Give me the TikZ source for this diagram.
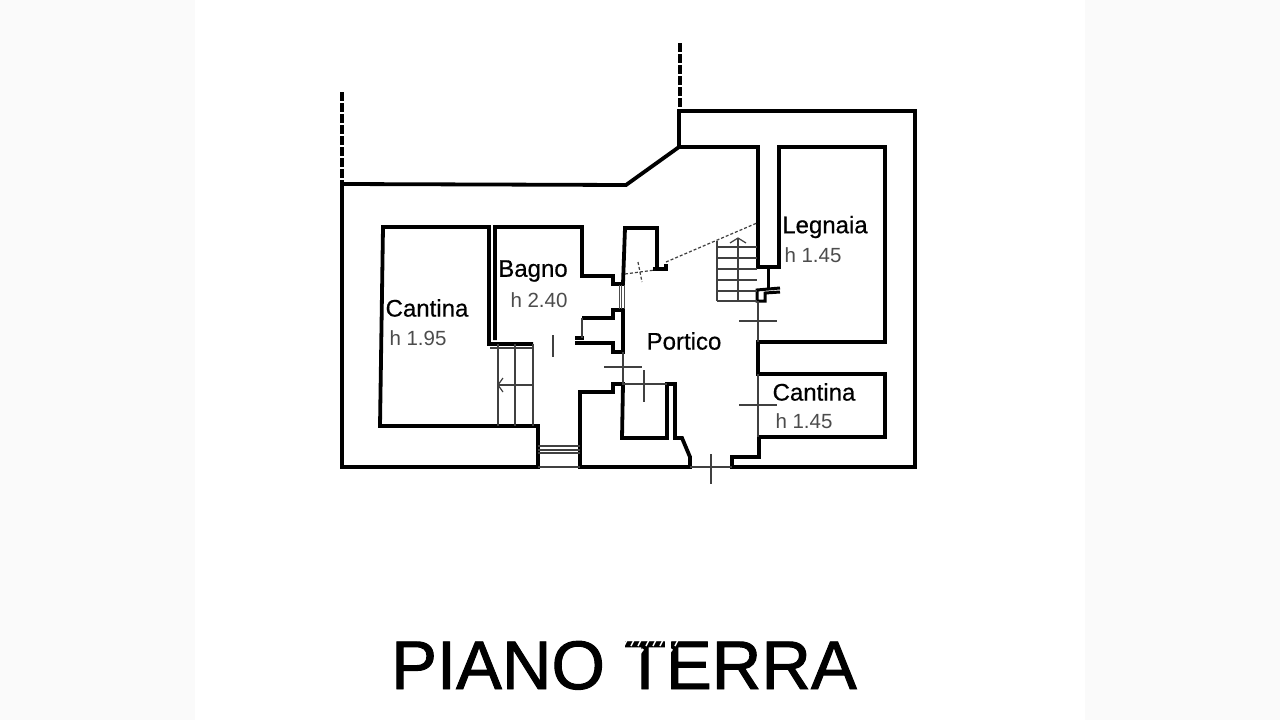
\documentclass[tikz,border=0pt]{standalone}
\usepackage{fontspec}
\setmainfont{Liberation Sans}
\newfontfamily\roomfont[FakeBold=0.5]{Liberation Sans}
\newfontfamily\titlefont[FakeBold=1.4]{Liberation Sans}
\definecolor{sidegray}{gray}{0.98}
\definecolor{heighttext}{gray}{0.3}

\begin{document}
\begin{tikzpicture}[x=1pt,y=-1pt,
    wall/.style={line width=3.8pt,line join=miter,black},
    thinwall/.style={line width=1.2pt,black!75},
    fenceline/.style={line width=3.4pt,dash pattern=on 9pt off 2pt},
    roomlabel/.style={font=\roomfont\fontsize{24}{24}\selectfont,text=black,inner sep=0pt},
    heightlabel/.style={font=\fontsize{20.5}{20.5}\selectfont,text=heighttext,inner sep=0pt},
    titlelabel/.style={font=\titlefont\fontsize{68.7}{69}\selectfont,text=black,inner sep=0pt}]
    \useasboundingbox (0,0) rectangle (1280,720);
    \fill[sidegray] (0,0) rectangle (1280,720);
    \fill[white] (195,0) rectangle (1085,720);

    % outer walls
    \draw[wall] (342,184) -- (342,467) -- (538,467) -- (538,426) -- (380,426)
    -- (383,227) -- (489,227) -- (489,344) -- (533,344);
    \draw[wall] (342,184) -- (626,185) -- (679,147) -- (758,147) -- (758,267)
    -- (779,267) -- (779,147) -- (885,147) -- (885,342) -- (758,342) -- (758,374)
    -- (885,374) -- (885,437) -- (759,437) -- (759,457) -- (732,457) -- (732,467)
    -- (915,467) -- (915,111) -- (679,111) -- (679,147);
    \draw[fenceline] (342,92) -- (342,184);
    \draw[fenceline] (680,43) -- (680,111);

    % bagno and the closet
    \draw[wall] (495,340) -- (495,227) -- (582,227) -- (582,276) -- (613,276)
    -- (613,284) -- (623,284) -- (625,228) -- (657,228) -- (657,268);
    \draw[wall] (653,269) -- (666,269) -- (666,264);
    \draw[wall] (582,318) -- (613,318) -- (613,310) -- (623,310) -- (623,352)
    -- (613,352) -- (613,343) -- (575,343);
    \draw[wall] (575,338) -- (584,338);
    \draw[thinwall] (582,318) -- (582,338);

    % lower block
    \draw[wall] (580,467) -- (580,392) -- (613,392) -- (613,384) -- (623,384)
    -- (622,438) -- (667,438) -- (667,384) -- (675,384) -- (675,438) -- (682,438)
    -- (690,457) -- (690,467) -- cycle;

    % small walls beside the stairs
    \draw[line width=3pt] (768,267) -- (768,288);
    \draw[line width=3pt] (780,288) -- (757,290) -- (757,301) -- (765,301)
    -- (765,293) -- (780,292);

    % thin lines and door marks
    \draw[thinwall] (538,467) -- (580,467) (538,446) -- (580,446) (538,450) -- (580,450)
    (538,453) -- (580,453);
    \draw[line width=0.9pt,black!70] (619,285) -- (619,309) (621.5,285) -- (621.5,309)
    (624,285) -- (624,309);
    \draw[thinwall] (623,352) -- (623,384) -- (667,384);
    \draw[thinwall] (604,367) -- (642,367) (644,370) -- (644,402);
    \draw[thinwall] (690,467) -- (732,467) (711,454) -- (711,484);
    \draw[thinwall] (758,374) -- (758,437) (739,405) -- (777,405);
    \draw[thinwall] (758,301) -- (758,342) (739,321) -- (777,321);
    \draw[thinwall] (553,335) -- (553,357);
    \draw[thinwall,densely dashed] (625,274) -- (655,270);
    \draw[thinwall,densely dashed] (666,262) -- (757,223);
    \draw[thinwall,densely dashed] (638,262) -- (642,282);

    % stairs
    \foreach \yy in {247,258,269,280,291,301}
    \draw[thinwall] (717,\yy) -- (757,\yy);
    \draw[thinwall] (717,241) -- (717,301);
    \draw[thinwall] (738,238) -- (738,301);
    \draw[thinwall] (730,243) -- (738,238) -- (746,243);

    \foreach \xx in {498,515,533}
    \draw[thinwall] (\xx,344) -- (\xx,426);
    \draw[thinwall] (498,385) -- (533,385);
    \draw[thinwall] (503,378) -- (498,385) -- (503,392);
    \draw[thinwall] (490,348) -- (533,348);

    % labels
    \node[roomlabel] (legnaia) at (825,227) {Legnaia};
    \node[heightlabel] (legnaiah) at (813,255) {h 1.45};
    \node[roomlabel] (bagno) at (533,271) {Bagno};
    \node[heightlabel] (bagnoh) at (539,300) {h 2.40};
    \node[roomlabel] (cantinasx) at (427,308) {Cantina};
    \node[heightlabel] (cantinasxh) at (418,338) {h 1.95};
    \node[roomlabel] (portico) at (684,341) {Portico};
    \node[roomlabel] (cantinadx) at (814,392) {Cantina};
    \node[heightlabel] (cantinadxh) at (804,421) {h 1.45};
    \node[titlelabel,anchor=base] (titolo) at (624,689) {PIANO TERRA};

    % white mark over the title
    \draw[white,line width=1.4pt] \foreach \xx in {624,631,638,646,653,660,668,675} {
      (\xx,646) -- (\xx+3,640) };
    \draw[white,line width=2.4pt] (637,657) -- (643,649) (666,657) -- (672,649);
\end{tikzpicture}
\end{document}
